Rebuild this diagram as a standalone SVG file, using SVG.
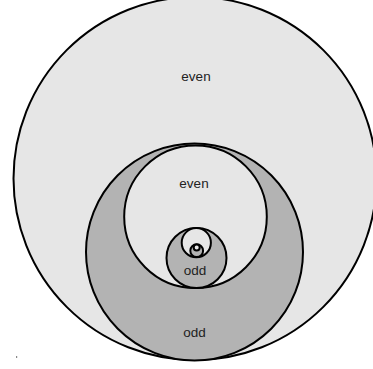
<svg xmlns="http://www.w3.org/2000/svg" width="373" height="369" viewBox="0 0 373 369">
<style>
.even{fill:#e6e6e6;stroke:#000;stroke-width:2}
.odd{fill:#b3b3b3;stroke:#000;stroke-width:2}
.lbl{font-family:"Liberation Sans",Arial,sans-serif;font-size:13.5px;fill:#222;text-anchor:middle}
</style>
<rect width="373" height="369" fill="#fff"/>
<g id="even1"><circle class="even" cx="195" cy="178.5" r="181.5"/><text class="lbl" x="196" y="81">even</text></g>
<g id="odd1"><circle class="odd" cx="194.5" cy="252" r="108.5"/><text class="lbl" x="194.5" y="336.5">odd</text></g>
<g id="even2"><circle class="even" cx="195.5" cy="216.8" r="71.3"/><text class="lbl" x="194" y="188">even</text></g>
<g id="odd2"><circle class="odd" cx="196.5" cy="258" r="30"/><text class="lbl" x="195" y="275">odd</text></g>
<g id="even3"><circle class="even" cx="196.3" cy="242.7" r="14.6"/></g>
<g id="odd3"><circle class="odd" cx="196.7" cy="250.7" r="6.4"/></g>
<g id="even4"><circle class="even" cx="196.7" cy="247.4" r="3"/></g>
<g id="connectors"/>
<rect x="16" y="356" width="1.2" height="2" fill="#888"/>
</svg>
